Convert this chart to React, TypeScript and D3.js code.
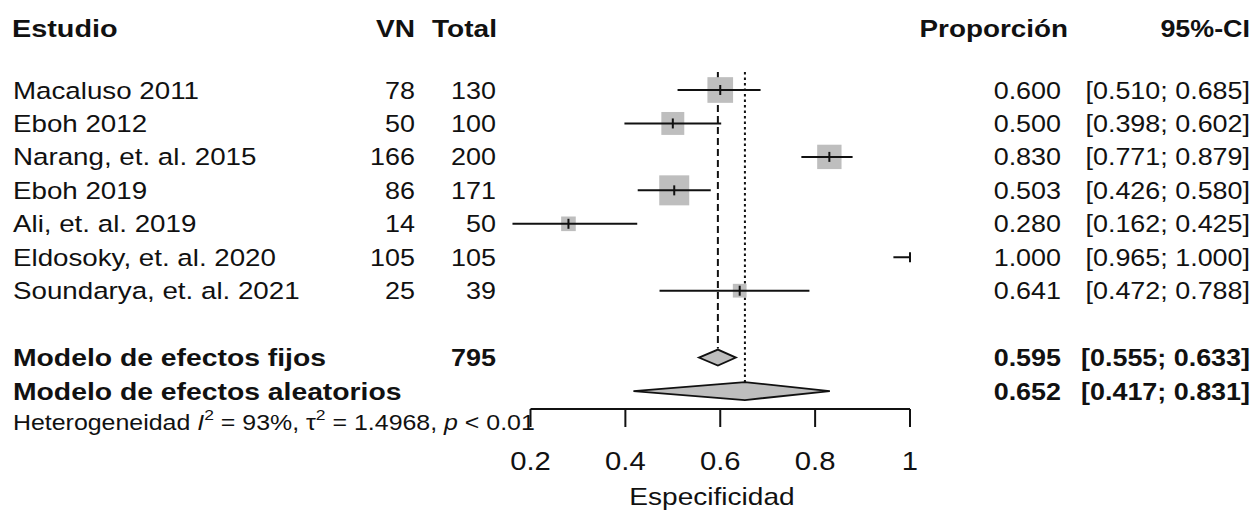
import React from 'react';
import * as d3 from 'd3';

const studies = [
  'Macaluso 2011',
  'Eboh 2012',
  'Narang, et. al. 2015',
  'Eboh 2019',
  'Ali, et. al. 2019',
  'Eldosoky, et. al. 2020',
  'Soundarya, et. al. 2021',
];
const vn = [78, 50, 166, 86, 14, 105, 25];
const total = [130, 100, 200, 171, 50, 105, 39];
const proportion = [0.6, 0.5, 0.83, 0.503, 0.28, 1.0, 0.641];
const ciLower = [0.51, 0.398, 0.771, 0.426, 0.162, 0.965, 0.472];
const ciUpper = [0.685, 0.602, 0.879, 0.58, 0.425, 1.0, 0.788];
const weights = [21.3, 17.0, 19.2, 29.1, 6.9, 0.1, 6.1];

const summaryLabels = ['Modelo de efectos fijos', 'Modelo de efectos aleatorios'];
const summaryTotal = ['795', ''];
const summaryEst = [0.595, 0.652];
const summaryLower = [0.555, 0.417];
const summaryUpper = [0.633, 0.831];

const xTicks = [0.2, 0.4, 0.6, 0.8, 1];
const xTickLabels = ['0.2', '0.4', '0.6', '0.8', '1'];
const headers = ['Estudio', 'VN', 'Total', 'Proporción', '95%-CI'];
const xLabel = 'Especificidad';

const W = 1259;
const H = 511;
const FONT = "'Liberation Sans', Arial, Helvetica, sans-serif";

const fmt = d3.format('.3f');

function T(props: {
  x: number;
  y: number;
  anchor?: string;
  bold?: boolean;
  size?: number;
  sx?: number;
  children: React.ReactNode;
}) {
  const { x, y, anchor = 'start', bold = false, size = 23, sx = 1.17, children } = props;
  return (
    <text
      transform={`translate(${x},${y}) scale(${sx},1)`}
      textAnchor={anchor}
      fontFamily={FONT}
      fontWeight={bold ? 'bold' : 'normal'}
      fontSize={size}
      fill="#111"
    >
      {children}
    </text>
  );
}

export default function App() {
  const x = d3.scaleLinear().domain([0.2, 1]).range([530.5, 910]);
  const row0 = 90;
  const rowH = 33.45;
  const rowY = (i: number) => row0 + i * rowH;
  const sumY = (j: number) => row0 + (8 + j) * rowH;
  const hetY = row0 + 10 * rowH - 3;
  const size = d3.scaleSqrt().domain([0, d3.max(weights) as number]).range([0, 30]);
  const axisY = 409;

  const colName = 13;
  const colVN = 415;
  const colTotal = 496;
  const colProp = 1061;
  const colCI = 1250;
  const dy = 8.5;

  const gray = '#BEBEBE';
  const ink = '#111';

  return (
    <svg
      width={W}
      height={H}
      viewBox={`0 0 ${W} ${H}`}
      style={{ position: 'absolute', left: 0, top: 0, background: '#fff' }}
    >
      <rect x={0} y={0} width={W} height={H} fill="#fff" />
      {/* headers */}
      <T x={colName - 1} y={37} bold size={24} sx={1.2}>{headers[0]}</T>
      <T x={colVN} y={37} bold size={24} anchor="end">{headers[1]}</T>
      <T x={colTotal + 1} y={37} bold size={24} anchor="end">{headers[2]}</T>
      <T x={colProp + 7} y={37} bold size={24} sx={1.16} anchor="end">{headers[3]}</T>
      <T x={colCI} y={37} bold size={24} sx={1.12} anchor="end">{headers[4]}</T>

      {/* reference lines */}
      <line
        x1={x(summaryEst[0])}
        x2={x(summaryEst[0])}
        y1={72}
        y2={sumY(0) - 9}
        stroke={ink}
        strokeWidth={2}
        strokeDasharray="7,4"
      />
      <line
        x1={x(summaryEst[1])}
        x2={x(summaryEst[1])}
        y1={72}
        y2={sumY(1) - 9}
        stroke={ink}
        strokeWidth={2}
        strokeDasharray="2.5,3"
      />

      {/* studies */}
      {studies.map((s, i) => {
        const cy = rowY(i);
        const sz = size(weights[i]);
        return (
          <g key={s}>
            <T x={colName} y={cy + dy} size={23.5} sx={1.18}>{s}</T>
            <T x={colVN} y={cy + dy} anchor="end">{vn[i]}</T>
            <T x={colTotal} y={cy + dy} anchor="end">{total[i]}</T>
            <T x={colProp} y={cy + dy} anchor="end">{fmt(proportion[i])}</T>
            <T x={colCI} y={cy + dy} anchor="end">
              {`[${fmt(ciLower[i])}; ${fmt(ciUpper[i])}]`}
            </T>
            <rect
              x={x(proportion[i]) - sz / 2}
              y={cy - sz / 2}
              width={sz}
              height={sz}
              fill={gray}
            />
            <line
              x1={x(ciLower[i])}
              x2={x(ciUpper[i])}
              y1={cy}
              y2={cy}
              stroke={ink}
              strokeWidth={2}
            />
            <line
              x1={x(proportion[i])}
              x2={x(proportion[i])}
              y1={cy - 5}
              y2={cy + 5}
              stroke={ink}
              strokeWidth={2}
            />
          </g>
        );
      })}

      {/* summaries */}
      {summaryLabels.map((s, j) => {
        const cy = sumY(j);
        const hh = j === 0 ? 8 : 9;
        const pts = [
          [x(summaryLower[j]), cy],
          [x(summaryEst[j]), cy - hh],
          [x(summaryUpper[j]), cy],
          [x(summaryEst[j]), cy + hh],
        ];
        return (
          <g key={s}>
            <T x={colName} y={cy + dy} bold size={24} sx={1.18}>{s}</T>
            <T x={colTotal} y={cy + dy} bold anchor="end">{summaryTotal[j]}</T>
            <T x={colProp} y={cy + dy} bold anchor="end">{fmt(summaryEst[j])}</T>
            <T x={colCI} y={cy + dy} bold anchor="end">
              {`[${fmt(summaryLower[j])}; ${fmt(summaryUpper[j])}]`}
            </T>
            <polygon
              points={pts.map((p) => p.join(',')).join(' ')}
              fill={gray}
              stroke={ink}
              strokeWidth={1.8}
            />
          </g>
        );
      })}

      {/* heterogeneity */}
      <T x={colName} y={hetY + 8} size={21.3}>
        <tspan>Heterogeneidad  </tspan>
        <tspan fontStyle="italic">I</tspan>
        <tspan fontSize={15} dy={-10}>2</tspan>
        <tspan dy={10}> = 93%, τ</tspan>
        <tspan fontSize={15} dy={-10}>2</tspan>
        <tspan dy={10}> = 1.4968, </tspan>
        <tspan fontStyle="italic">p</tspan>
        <tspan> &lt; 0.01</tspan>
      </T>

      {/* axis */}
      <line x1={x(0.2)} x2={x(1)} y1={axisY} y2={axisY} stroke={ink} strokeWidth={2} />
      {xTicks.map((t, k) => (
        <g key={t}>
          <line x1={x(t)} x2={x(t)} y1={axisY} y2={axisY + 18} stroke={ink} strokeWidth={2} />
          <T x={x(t)} y={470} anchor="middle" size={25}>{xTickLabels[k]}</T>
        </g>
      ))}
      <T x={712} y={505} anchor="middle" size={24}>{xLabel}</T>
    </svg>
  );
}
